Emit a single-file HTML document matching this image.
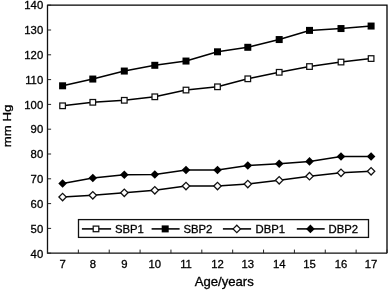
<!DOCTYPE html><html><head><meta charset="utf-8"><title>Chart</title><style>html,body{margin:0;padding:0;background:#fff}svg{display:block;will-change:transform}text{font-family:"Liberation Sans",Arial,sans-serif;fill:#000;stroke:#000;stroke-width:.3px}</style></head><body>
<svg width="388" height="290" viewBox="0 0 388 290">
<rect width="388" height="290" fill="#fff"/>
<path d="M47.5 5.2H387.0V253.2" fill="none" stroke="#000" stroke-width="1.3"/>
<path d="M47.5 4.7V253.2H387.0" fill="none" stroke="#111" stroke-width="1.3"/>
<path d="M47.5 253.20h3.6M47.5 228.40h3.6M47.5 203.60h3.6M47.5 178.80h3.6M47.5 154.00h3.6M47.5 129.20h3.6M47.5 104.40h3.6M47.5 79.60h3.6M47.5 54.80h3.6M47.5 30.00h3.6M47.5 5.20h3.6M47.50 253.2v-3.6M78.36 253.2v-3.6M109.23 253.2v-3.6M140.09 253.2v-3.6M170.95 253.2v-3.6M201.82 253.2v-3.6M232.68 253.2v-3.6M263.55 253.2v-3.6M294.41 253.2v-3.6M325.27 253.2v-3.6M356.14 253.2v-3.6M387.00 253.2v-3.6" fill="none" stroke="#222" stroke-width="1"/>
<text x="43.2" y="257.70" font-size="11.3" text-anchor="end">40</text>
<text x="43.2" y="232.84" font-size="11.3" text-anchor="end">50</text>
<text x="43.2" y="207.98" font-size="11.3" text-anchor="end">60</text>
<text x="43.2" y="183.12" font-size="11.3" text-anchor="end">70</text>
<text x="43.2" y="158.26" font-size="11.3" text-anchor="end">80</text>
<text x="43.2" y="133.40" font-size="11.3" text-anchor="end">90</text>
<text x="43.2" y="108.54" font-size="11.3" text-anchor="end">100</text>
<text x="43.2" y="83.68" font-size="11.3" text-anchor="end">110</text>
<text x="43.2" y="58.82" font-size="11.3" text-anchor="end">120</text>
<text x="43.2" y="33.96" font-size="11.3" text-anchor="end">130</text>
<text x="43.2" y="9.10" font-size="11.3" text-anchor="end">140</text>
<text x="62.60" y="268" font-size="11.3" text-anchor="middle">7</text>
<text x="92.80" y="268" font-size="11.3" text-anchor="middle">8</text>
<text x="124.30" y="268" font-size="11.3" text-anchor="middle">9</text>
<text x="154.80" y="268" font-size="11.3" text-anchor="middle">10</text>
<text x="186.00" y="268" font-size="11.3" text-anchor="middle">11</text>
<text x="217.50" y="268" font-size="11.3" text-anchor="middle">12</text>
<text x="247.80" y="268" font-size="11.3" text-anchor="middle">13</text>
<text x="279.20" y="268" font-size="11.3" text-anchor="middle">14</text>
<text x="309.50" y="268" font-size="11.3" text-anchor="middle">15</text>
<text x="341.00" y="268" font-size="11.3" text-anchor="middle">16</text>
<text x="371.10" y="268" font-size="11.3" text-anchor="middle">17</text>
<text x="194.7" y="285.8" font-size="12.2" textLength="59.0" lengthAdjust="spacingAndGlyphs">Age/years</text>
<text transform="translate(11.2,147.3) rotate(-90)" font-size="11.8" textLength="42.6" lengthAdjust="spacingAndGlyphs">mm Hg</text>
<polyline points="62.60,105.80 92.80,102.30 124.30,100.30 154.80,96.80 186.00,90.05 217.50,86.80 247.80,78.80 279.20,72.30 309.50,66.55 341.00,62.05 371.10,58.55" fill="none" stroke="#000" stroke-width="1.55" stroke-linejoin="round"/>
<rect x="59.80" y="103.00" width="5.6" height="5.6" fill="#fff" stroke="#111" stroke-width="1.25"/>
<rect x="90.00" y="99.50" width="5.6" height="5.6" fill="#fff" stroke="#111" stroke-width="1.25"/>
<rect x="121.50" y="97.50" width="5.6" height="5.6" fill="#fff" stroke="#111" stroke-width="1.25"/>
<rect x="152.00" y="94.00" width="5.6" height="5.6" fill="#fff" stroke="#111" stroke-width="1.25"/>
<rect x="183.20" y="87.25" width="5.6" height="5.6" fill="#fff" stroke="#111" stroke-width="1.25"/>
<rect x="214.70" y="84.00" width="5.6" height="5.6" fill="#fff" stroke="#111" stroke-width="1.25"/>
<rect x="245.00" y="76.00" width="5.6" height="5.6" fill="#fff" stroke="#111" stroke-width="1.25"/>
<rect x="276.40" y="69.50" width="5.6" height="5.6" fill="#fff" stroke="#111" stroke-width="1.25"/>
<rect x="306.70" y="63.75" width="5.6" height="5.6" fill="#fff" stroke="#111" stroke-width="1.25"/>
<rect x="338.20" y="59.25" width="5.6" height="5.6" fill="#fff" stroke="#111" stroke-width="1.25"/>
<rect x="368.30" y="55.75" width="5.6" height="5.6" fill="#fff" stroke="#111" stroke-width="1.25"/>
<polyline points="62.60,85.80 92.80,79.05 124.30,71.05 154.80,65.30 186.00,61.05 217.50,51.80 247.80,47.30 279.20,39.55 309.50,30.40 341.00,28.55 371.10,26.05" fill="none" stroke="#000" stroke-width="1.55" stroke-linejoin="round"/>
<rect x="59.10" y="82.30" width="7.0" height="7.0" fill="#000"/>
<rect x="89.30" y="75.55" width="7.0" height="7.0" fill="#000"/>
<rect x="120.80" y="67.55" width="7.0" height="7.0" fill="#000"/>
<rect x="151.30" y="61.80" width="7.0" height="7.0" fill="#000"/>
<rect x="182.50" y="57.55" width="7.0" height="7.0" fill="#000"/>
<rect x="214.00" y="48.30" width="7.0" height="7.0" fill="#000"/>
<rect x="244.30" y="43.80" width="7.0" height="7.0" fill="#000"/>
<rect x="275.70" y="36.05" width="7.0" height="7.0" fill="#000"/>
<rect x="306.00" y="26.90" width="7.0" height="7.0" fill="#000"/>
<rect x="337.50" y="25.05" width="7.0" height="7.0" fill="#000"/>
<rect x="367.60" y="22.55" width="7.0" height="7.0" fill="#000"/>
<polyline points="62.60,197.05 92.80,195.30 124.30,192.80 154.80,190.30 186.00,186.05 217.50,186.05 247.80,184.05 279.20,180.30 309.50,176.20 341.00,172.80 371.10,171.30" fill="none" stroke="#000" stroke-width="1.55" stroke-linejoin="round"/>
<path d="M58.90 197.05L62.60 193.35L66.30 197.05L62.60 200.75Z" fill="#fff" stroke="#111" stroke-width="1.25"/>
<path d="M89.10 195.30L92.80 191.60L96.50 195.30L92.80 199.00Z" fill="#fff" stroke="#111" stroke-width="1.25"/>
<path d="M120.60 192.80L124.30 189.10L128.00 192.80L124.30 196.50Z" fill="#fff" stroke="#111" stroke-width="1.25"/>
<path d="M151.10 190.30L154.80 186.60L158.50 190.30L154.80 194.00Z" fill="#fff" stroke="#111" stroke-width="1.25"/>
<path d="M182.30 186.05L186.00 182.35L189.70 186.05L186.00 189.75Z" fill="#fff" stroke="#111" stroke-width="1.25"/>
<path d="M213.80 186.05L217.50 182.35L221.20 186.05L217.50 189.75Z" fill="#fff" stroke="#111" stroke-width="1.25"/>
<path d="M244.10 184.05L247.80 180.35L251.50 184.05L247.80 187.75Z" fill="#fff" stroke="#111" stroke-width="1.25"/>
<path d="M275.50 180.30L279.20 176.60L282.90 180.30L279.20 184.00Z" fill="#fff" stroke="#111" stroke-width="1.25"/>
<path d="M305.80 176.20L309.50 172.50L313.20 176.20L309.50 179.90Z" fill="#fff" stroke="#111" stroke-width="1.25"/>
<path d="M337.30 172.80L341.00 169.10L344.70 172.80L341.00 176.50Z" fill="#fff" stroke="#111" stroke-width="1.25"/>
<path d="M367.40 171.30L371.10 167.60L374.80 171.30L371.10 175.00Z" fill="#fff" stroke="#111" stroke-width="1.25"/>
<polyline points="62.60,183.55 92.80,178.05 124.30,174.80 154.80,174.55 186.00,170.05 217.50,170.05 247.80,165.55 279.20,163.80 309.50,161.40 341.00,156.55 371.10,156.55" fill="none" stroke="#000" stroke-width="1.55" stroke-linejoin="round"/>
<path d="M58.30 183.55L62.60 179.25L66.90 183.55L62.60 187.85Z" fill="#000"/>
<path d="M88.50 178.05L92.80 173.75L97.10 178.05L92.80 182.35Z" fill="#000"/>
<path d="M120.00 174.80L124.30 170.50L128.60 174.80L124.30 179.10Z" fill="#000"/>
<path d="M150.50 174.55L154.80 170.25L159.10 174.55L154.80 178.85Z" fill="#000"/>
<path d="M181.70 170.05L186.00 165.75L190.30 170.05L186.00 174.35Z" fill="#000"/>
<path d="M213.20 170.05L217.50 165.75L221.80 170.05L217.50 174.35Z" fill="#000"/>
<path d="M243.50 165.55L247.80 161.25L252.10 165.55L247.80 169.85Z" fill="#000"/>
<path d="M274.90 163.80L279.20 159.50L283.50 163.80L279.20 168.10Z" fill="#000"/>
<path d="M305.20 161.40L309.50 157.10L313.80 161.40L309.50 165.70Z" fill="#000"/>
<path d="M336.70 156.55L341.00 152.25L345.30 156.55L341.00 160.85Z" fill="#000"/>
<path d="M366.80 156.55L371.10 152.25L375.40 156.55L371.10 160.85Z" fill="#000"/>
<rect x="78.5" y="219.6" width="290" height="17.8" fill="#fff" stroke="#111" stroke-width="1.3"/>
<path d="M81.9 228.9H111.10000000000001" stroke="#000" stroke-width="1.55"/>
<rect x="93.20" y="226.10" width="5.6" height="5.6" fill="#fff" stroke="#111" stroke-width="1.25"/>
<text x="115.0" y="233.1" font-size="11.3">SBP1</text>
<path d="M151.6 228.9H179.6" stroke="#000" stroke-width="1.55"/>
<rect x="161.70" y="225.40" width="7.0" height="7.0" fill="#000"/>
<text x="183.4" y="233.1" font-size="11.3">SBP2</text>
<path d="M222.9 228.9H251.1" stroke="#000" stroke-width="1.55"/>
<path d="M233.10 228.90L236.80 225.20L240.50 228.90L236.80 232.60Z" fill="#fff" stroke="#111" stroke-width="1.25"/>
<text x="255.5" y="233.1" font-size="11.3">DBP1</text>
<path d="M296.8 228.9H324.7" stroke="#000" stroke-width="1.55"/>
<path d="M306.10 228.90L310.40 224.60L314.70 228.90L310.40 233.20Z" fill="#000"/>
<text x="328.6" y="233.1" font-size="11.3">DBP2</text>
</svg></body></html>
